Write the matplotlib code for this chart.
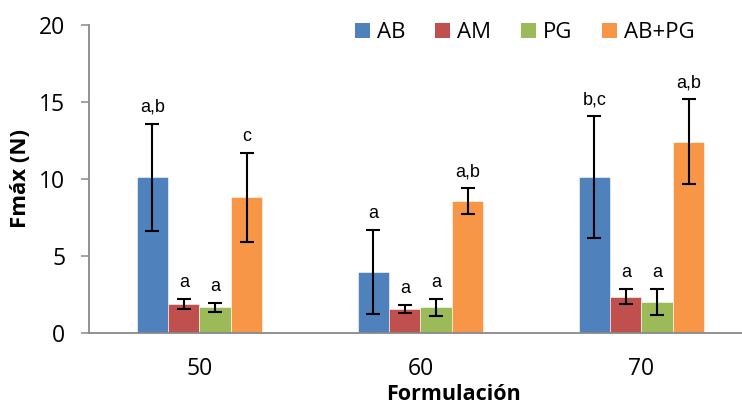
import matplotlib
matplotlib.use("Agg")
import matplotlib.pyplot as plt
import numpy as np
from matplotlib.patches import Patch

categories = ["50", "60", "70"]
series_names = ["AB", "AM", "PG", "AB+PG"]
colors = ["#4F81BD", "#C0504D", "#9BBB59", "#F79646"]

ab = [10.1, 3.95, 10.15]
am = [1.88, 1.55, 2.37]
pg = [1.66, 1.68, 2.02]
abpg = [8.8, 8.55, 12.42]

ab_err = [3.5, 2.72, 3.95]
am_err = [0.34, 0.25, 0.5]
pg_err = [0.32, 0.55, 0.85]
abpg_err = [2.9, 0.85, 2.77]

ab_lbl = ["a,b", "a", "b,c"]
am_lbl = ["a", "a", "a"]
pg_lbl = ["a", "a", "a"]
abpg_lbl = ["c", "a,b", "a,b"]

values = [ab, am, pg, abpg]
errors = [ab_err, am_err, pg_err, abpg_err]
labels = [ab_lbl, am_lbl, pg_lbl, abpg_lbl]

W, H = 742, 407
fig = plt.figure(figsize=(W / 100, H / 100), dpi=100)
ax = fig.add_axes([89 / W, 1 - 333 / H, 663 / W, 308 / H])

tick_font = "Open Sans"
x = np.arange(len(categories))
bw = 0.1425
for i, (vals, errs, lbls) in enumerate(zip(values, errors, labels)):
    pos = x + (i - 1.5) * bw
    ax.bar(pos, vals, width=bw, color=colors[i], edgecolor="white",
           linewidth=0.4, zorder=2)
    ax.errorbar(pos, vals, yerr=errs, fmt="none", ecolor="black",
                elinewidth=1.5, capsize=4.7, capthick=1.5, zorder=3)
    for p, v, e, t in zip(pos, vals, errs, lbls):
        ax.annotate(t, (p, v + e), xytext=(0, 8.5), textcoords="offset points",
                    ha="center", va="baseline", fontsize=13,
                    family="Liberation Sans", color="black")

ax.set_xlim(-0.5, 2.5)
ax.set_ylim(0, 20)
ax.set_yticks([0, 5, 10, 15, 20])
ax.set_xticks(x)
ax.set_xticklabels(categories)
for lab in ax.get_xticklabels() + ax.get_yticklabels():
    lab.set_family(tick_font)
    lab.set_fontsize(16.5)
ax.tick_params(axis="x", length=0, pad=17)
ax.tick_params(axis="y", length=6, width=1.1, color="#898989", direction="out", pad=11)

for s in ["top", "right"]:
    ax.spines[s].set_visible(False)
for s in ["left", "bottom"]:
    ax.spines[s].set_color("#898989")
    ax.spines[s].set_linewidth(1.3)

ax.set_ylabel("Fmáx (N)", family=tick_font, fontweight="bold", fontsize=16, labelpad=6)
fig.text(453 / W, 2 / H, "Formulación", family=tick_font, fontweight="bold",
         fontsize=15.5, ha="center", va="bottom")

handles = [Patch(facecolor=c, edgecolor="none") for c in colors]
fig.legend(handles, series_names, loc="center left",
           bbox_to_anchor=(355 / W, 1 - 33 / H), ncol=4, frameon=False,
           prop={"family": tick_font, "size": 16},
           handlelength=0.68, handleheight=0.68, handletextpad=0.3,
           columnspacing=1.35, borderpad=0, borderaxespad=0)

fig.savefig("out.png", dpi=100)
